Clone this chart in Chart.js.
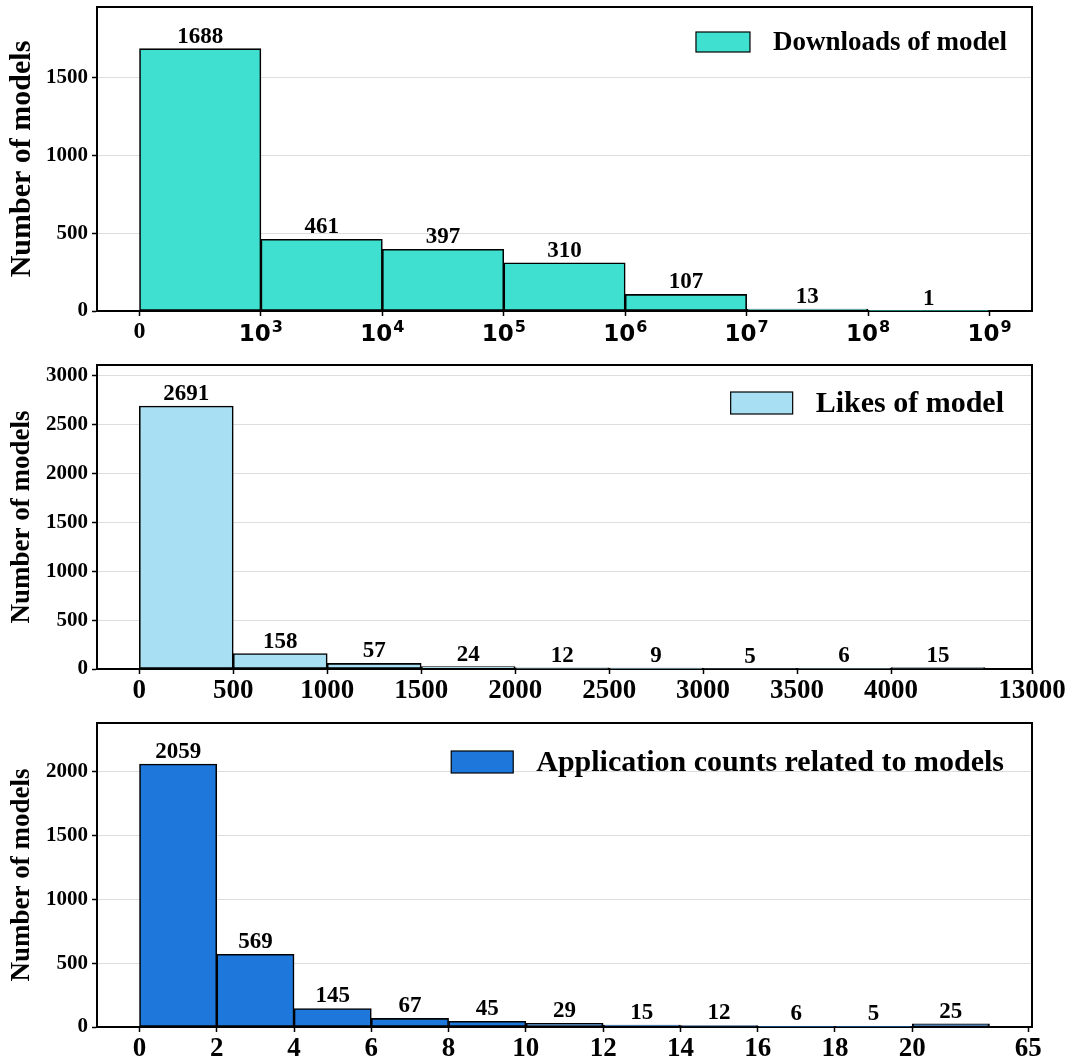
<!DOCTYPE html>
<html><head><meta charset="utf-8">
<script src="https://cdn.jsdelivr.net/npm/chart.js@4.4.0/dist/chart.umd.min.js"></script>
<style>
html,body{margin:0;padding:0;background:#fff;}
#wrap{position:relative;width:1068px;height:1062px;background:#fff;}
.pane{position:absolute;left:0;width:1068px;}
</style></head><body>
<div id="wrap">
  <div class="pane" style="top:0;height:356px"><canvas id="c1"></canvas></div>
  <div class="pane" style="top:356px;height:356px"><canvas id="c2"></canvas></div>
  <div class="pane" style="top:712px;height:350px"><canvas id="c3"></canvas></div>
</div>
<script>
// ---------------- data ----------------
const downloadsLabel = 'Downloads of model';
const downloadsTicks = ['0', '10^3', '10^4', '10^5', '10^6', '10^7', '10^8', '10^9'];
const downloadsCounts = [1688, 461, 397, 310, 107, 13, 1];
const downloadsYTicks = [0, 500, 1000, 1500];

const likesLabel = 'Likes of model';
const likesTicks = ['0', '500', '1000', '1500', '2000', '2500', '3000', '3500', '4000', '13000'];
const likesCounts = [2691, 158, 57, 24, 12, 9, 5, 6, 15];
const likesYTicks = [0, 500, 1000, 1500, 2000, 2500, 3000];

const appLabel = 'Application counts related to models';
const appTicks = ['0', '2', '4', '6', '8', '10', '12', '14', '16', '18', '20', '65'];
const appCounts = [2059, 569, 145, 67, 45, 29, 15, 12, 6, 5, 25];
const appYTicks = [0, 500, 1000, 1500, 2000];

const yTitle = 'Number of models';

// ---------------- style ----------------
const SERIF = "'Liberation Serif', 'Times New Roman', serif";
const SANS = "'DejaVu Sans', sans-serif";

const panelPlugin = {
  id: 'panelDecor',
  afterDatasetsDraw(chart, args, opts) {
    const ctx = chart.ctx;
    const meta = chart.getDatasetMeta(0);
    const vals = chart.data.datasets[0].data;
    ctx.save();
    ctx.fillStyle = '#000';
    ctx.font = 'bold ' + opts.valueSize + 'px ' + SERIF;
    ctx.textAlign = 'center';
    ctx.textBaseline = 'alphabetic';
    meta.data.forEach((bar, i) => {
      ctx.fillText(String(vals[i].y), bar.x, bar.y - 6);
    });
    ctx.restore();
  },
  afterDraw(chart, args, opts) {
    const ctx = chart.ctx;
    const a = chart.chartArea;
    ctx.save();
    // top & right spines
    ctx.strokeStyle = '#000';
    ctx.lineWidth = 2;
    ctx.beginPath();
    ctx.moveTo(a.left - 1, a.top);
    ctx.lineTo(a.right, a.top);
    ctx.lineTo(a.right, a.bottom + 1);
    ctx.stroke();
    // power-of-ten tick labels (mathtext-like)
    if (opts.powerLabels) {
      const xs = chart.scales.x;
      xs.ticks.forEach((t, i) => {
        const lab = opts.powerLabels[i];
        if (!lab || lab.indexOf('^') < 0) return;
        const [base, exp] = lab.split('^');
        const px = xs.getPixelForValue(t.value);
        ctx.font = 'bold 23px ' + SANS;
        const bw = ctx.measureText(base).width;
        ctx.font = 'bold 16px ' + SANS;
        const ew = ctx.measureText(exp).width;
        const left = px - (bw + ew + 1) / 2;
        ctx.fillStyle = '#000';
        ctx.textAlign = 'left';
        ctx.textBaseline = 'alphabetic';
        ctx.font = 'bold 23px ' + SANS;
        ctx.fillText(base, left, a.bottom + 30);
        ctx.font = 'bold 16px ' + SANS;
        ctx.fillText(exp, left + bw + 1, a.bottom + 21);
      });
    }
    // legend
    const ds = chart.data.datasets[0];
    ctx.font = 'bold ' + opts.legendSize + 'px ' + SERIF;
    const tw = ctx.measureText(ds.label).width;
    const textRight = a.right - opts.legendRight;
    const textLeft = textRight - tw;
    const cy = a.top + opts.legendCy;
    const bx = textLeft - opts.legendGap - opts.boxW;
    ctx.fillStyle = ds.backgroundColor;
    ctx.fillRect(bx, cy - opts.boxH / 2, opts.boxW, opts.boxH);
    ctx.lineWidth = 1.2;
    ctx.strokeStyle = '#000';
    ctx.strokeRect(bx, cy - opts.boxH / 2, opts.boxW, opts.boxH);
    ctx.fillStyle = '#000';
    ctx.textAlign = 'left';
    ctx.textBaseline = 'middle';
    ctx.fillText(ds.label, textLeft, cy + 1);
    ctx.restore();
  }
};

function makePanel(id, p) {
  const tickPos = p.ticks.map((_, i) => (i < p.counts.length ? i : p.lastTickPos));
  const points = p.counts.map((v, i) => ({ x: i + 0.5, y: v }));
  return new Chart(document.getElementById(id), {
    type: 'bar',
    data: {
      datasets: [{
        label: p.label,
        data: points,
        backgroundColor: p.color,
        borderColor: '#000',
        borderWidth: 1.6,
        borderSkipped: false,
        barPercentage: 1,
        categoryPercentage: 1
      }]
    },
    plugins: [panelPlugin],
    options: {
      responsive: true,
      maintainAspectRatio: false,
      animation: false,
      devicePixelRatio: 1,
      layout: { padding: { top: p.padTop, right: 36, left: 0, bottom: 0 } },
      plugins: {
        legend: { display: false },
        tooltip: { enabled: false },
        panelDecor: {
          valueSize: 23,
          legendSize: p.legendSize,
          legendRight: p.legendRight,
          legendCy: p.legendCy,
          legendGap: 23,
          boxW: p.boxW,
          boxH: p.boxH,
          powerLabels: p.powers ? p.ticks : null
        }
      },
      scales: {
        x: {
          type: 'linear',
          offset: false,
          min: p.xMin,
          max: p.xMax,
          afterBuildTicks: (s) => { s.ticks = tickPos.map(v => ({ value: v })); },
          afterFit: (s) => { s.height = p.xAxisH; s.paddingLeft = 0; s.paddingRight = 0; },
          grid: { display: true, offset: false, drawOnChartArea: false, drawTicks: true, tickLength: 5, tickColor: '#000', tickWidth: 1.5 },
          border: { display: true, color: '#000', width: 2 },
          ticks: {
            autoSkip: false,
            maxRotation: 0,
            padding: 1,
            color: '#000',
            callback: (v, i) => (p.ticks[i].indexOf('^') >= 0 ? '' : p.ticks[i]),
            font: { family: SERIF, size: p.xTickSize, weight: 'bold' }
          }
        },
        y: {
          min: 0,
          max: p.yMax,
          afterBuildTicks: (s) => { s.ticks = p.yTicks.map(v => ({ value: v })); },
          afterFit: (s) => { s.width = 97; s.paddingTop = 0; s.paddingBottom = 0; },
          grid: { color: '#dddddd', lineWidth: 1, drawTicks: true, tickLength: 5, tickColor: '#000', tickWidth: 1.5 },
          border: { display: true, color: '#000', width: 2 },
          ticks: {
            padding: 4,
            color: '#000',
            callback: (v) => String(v),
            font: { family: SERIF, size: 21, weight: 'bold' }
          },
          title: {
            display: true,
            text: yTitle,
            color: '#000',
            padding: { top: p.titlePad, bottom: 0 },
            font: { family: SERIF, size: p.titleSize, weight: 'bold', lineHeight: 1.2 }
          }
        }
      }
    }
  });
}

makePanel('c1', {
  label: downloadsLabel, ticks: downloadsTicks, counts: downloadsCounts, yTicks: downloadsYTicks,
  color: '#40E0D0', xMin: -0.35, xMax: 7.35, lastTickPos: 7, yMax: 1956,
  padTop: 7, xAxisH: 45, powers: true, xTickSize: 24,
  legendSize: 27, legendRight: 25, legendCy: 35, boxW: 54, boxH: 20,
  titleSize: 30, titlePad: 4
});
makePanel('c2', {
  label: likesLabel, ticks: likesTicks, counts: likesCounts, yTicks: likesYTicks,
  color: '#A8DFF2', xMin: -0.45, xMax: 9.5, lastTickPos: 9.5, yMax: 3110,
  padTop: 9, xAxisH: 43, powers: false, xTickSize: 27,
  legendSize: 30, legendRight: 28, legendCy: 38, boxW: 62, boxH: 22,
  titleSize: 27, titlePad: 6
});
makePanel('c3', {
  label: appLabel, ticks: appTicks, counts: appCounts, yTicks: appYTicks,
  color: '#1E78DC', xMin: -0.55, xMax: 11.55, lastTickPos: 11.5, yMax: 2380,
  padTop: 11, xAxisH: 35, powers: false, xTickSize: 27,
  legendSize: 30, legendRight: 28, legendCy: 39, boxW: 62, boxH: 22,
  titleSize: 27, titlePad: 6
});
</script>
</body></html>
